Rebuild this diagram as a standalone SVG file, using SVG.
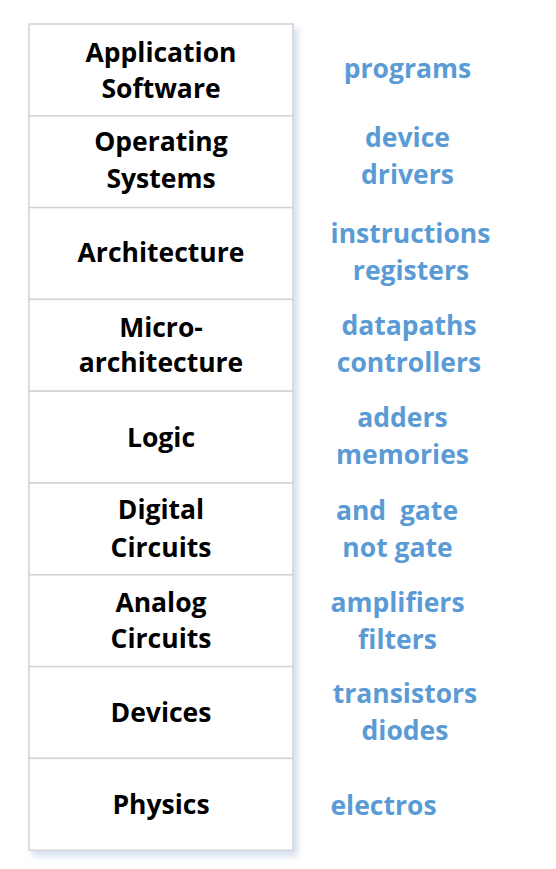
<svg xmlns="http://www.w3.org/2000/svg" width="556" height="869" viewBox="0 0 556 869">
  <style>
    .cell { fill: #ffffff; stroke: #d3d3d3; stroke-width: 1.5; }
    .layer { font-family: "Open Sans", "Noto Sans", "Liberation Sans", sans-serif; font-weight: bold; font-size: 26.5px; fill: #000000; text-anchor: middle; }
    .example { font-family: "Open Sans", "Noto Sans", "Liberation Sans", sans-serif; font-weight: bold; font-size: 26.5px; fill: #5b9bd5; text-anchor: middle; }
  </style>
  <defs>
    <filter id="soft" x="-10%" y="-10%" width="120%" height="120%">
      <feGaussianBlur stdDeviation="3"/>
    </filter>
  </defs>

  <rect width="556" height="869" fill="#ffffff"/>

  <!-- stack shadow -->
  <rect x="32" y="28" width="266" height="828" fill="#c9d8ec" opacity="0.8" filter="url(#soft)"/>

  <!-- abstraction layers, top to bottom -->
  <g id="application-software">
    <rect class="cell" x="29" y="24" width="264" height="91.8"/>
    <text class="layer" x="161" y="62">Application</text>
    <text class="layer" x="161" y="98">Software</text>
    <text class="example" x="407.5" y="78">programs</text>
  </g>
  <g id="operating-systems">
    <rect class="cell" x="29" y="115.8" width="264" height="91.8"/>
    <text class="layer" x="161" y="151">Operating</text>
    <text class="layer" x="161" y="188">Systems</text>
    <text class="example" x="407.5" y="147">device</text>
    <text class="example" x="407.5" y="184">drivers</text>
  </g>
  <g id="architecture">
    <rect class="cell" x="29" y="207.6" width="264" height="91.8"/>
    <text class="layer" x="161" y="262">Architecture</text>
    <text class="example" x="410.5" y="243">instructions</text>
    <text class="example" x="411" y="280">registers</text>
  </g>
  <g id="microarchitecture">
    <rect class="cell" x="29" y="299.4" width="264" height="91.8"/>
    <text class="layer" x="161" y="337">Micro-</text>
    <text class="layer" x="161" y="372">architecture</text>
    <text class="example" x="409" y="335">datapaths</text>
    <text class="example" x="409" y="372">controllers</text>
  </g>
  <g id="logic">
    <rect class="cell" x="29" y="391.2" width="264" height="91.8"/>
    <text class="layer" x="161" y="447">Logic</text>
    <text class="example" x="402.5" y="427">adders</text>
    <text class="example" x="402.5" y="464">memories</text>
  </g>
  <g id="digital-circuits">
    <rect class="cell" x="29" y="483" width="264" height="91.8"/>
    <text class="layer" x="161" y="519">Digital</text>
    <text class="layer" x="161" y="557">Circuits</text>
    <text class="example" x="397" y="520" xml:space="preserve">and  gate</text>
    <text class="example" x="397.5" y="557">not gate</text>
  </g>
  <g id="analog-circuits">
    <rect class="cell" x="29" y="574.8" width="264" height="91.8"/>
    <text class="layer" x="161" y="612">Analog</text>
    <text class="layer" x="161" y="648">Circuits</text>
    <text class="example" x="397.5" y="612">amplifiers</text>
    <text class="example" x="397.5" y="649">filters</text>
  </g>
  <g id="devices">
    <rect class="cell" x="29" y="666.6" width="264" height="91.8"/>
    <text class="layer" x="161" y="722">Devices</text>
    <text class="example" x="405" y="703">transistors</text>
    <text class="example" x="405" y="740">diodes</text>
  </g>
  <g id="physics">
    <rect class="cell" x="29" y="758.4" width="264" height="91.8"/>
    <text class="layer" x="161" y="814">Physics</text>
    <text class="example" x="383.5" y="815">electros</text>
  </g>
</svg>
